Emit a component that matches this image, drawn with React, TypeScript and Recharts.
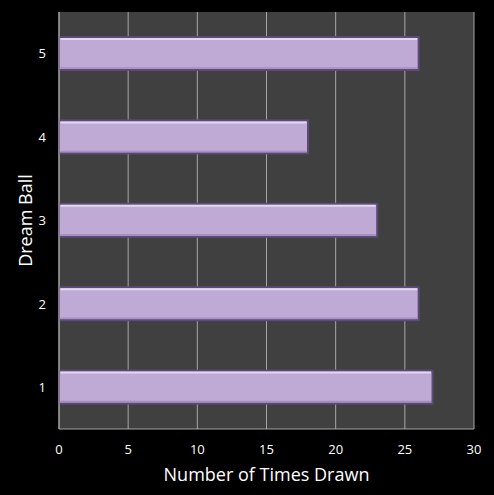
import React from "react";
import { BarChart, Bar, XAxis, YAxis, CartesianGrid, Label } from "recharts";

// Dream ball numbers and how many times each was drawn
const balls = ["1", "2", "3", "4", "5"];
const timesDrawn = [27, 26, 23, 18, 26];
const xTicks = [0, 5, 10, 15, 20, 25, 30];

const data = balls.map((ball, i) => ({ ball, count: timesDrawn[i] }));

const FONT = "'Open Sans', sans-serif";

// Bar with a dark outline and a pale sheen along its top edge
const BeveledBar = (props: any) => {
  const x0 = Number(props.x);
  const y0 = Number(props.y);
  const w0 = Number(props.width);
  const h0 = Number(props.height);
  const x = Math.min(x0, x0 + w0);
  const y = Math.min(y0, y0 + h0);
  const width = Math.abs(w0);
  const height = Math.abs(h0);
  if (!width) return null;
  return (
    <g>
      <rect x={x} y={y} width={width} height={height} fill="#bfaad5" stroke="#5d4a78" strokeWidth={2} />
      <line x1={x + 1.5} x2={x + width - 1.5} y1={y + 2} y2={y + 2} stroke="#e2d8ee" strokeWidth={2} />
      <line x1={x + 1.5} x2={x + width - 1.5} y1={y + height - 2} y2={y + height - 2} stroke="#a48fbd" strokeWidth={1.5} />
    </g>
  );
};

// Vertical axis title, centred on the plot height
const YTitle = (props: any) => {
  const vb = props.viewBox || {};
  const cx = 25;
  const cy = (vb.y ?? 12) + (vb.height ?? 417) / 2;
  return (
    <text
      x={cx}
      y={cy}
      transform={`rotate(-90 ${cx} ${cy})`}
      textAnchor="middle"
      dominantBaseline="central"
      fill="#ffffff"
      fontSize={18}
      fontFamily={FONT}
    >
      Dream Ball
    </text>
  );
};

export default function App() {
  return (
    <div style={{ position: "absolute", left: 0, top: 0, width: 494, height: 495, background: "#000" }}>
      <BarChart
        width={494}
        height={495}
        data={data}
        layout="vertical"
        margin={{ top: 12, right: 20, bottom: 0, left: 0 }}
      >
        <CartesianGrid horizontal={false} vertical stroke="#a6a6a6" fill="#404040" />
        <XAxis
          type="number"
          domain={[0, 30]}
          ticks={xTicks}
          height={66}
          axisLine={{ stroke: "#a6a6a6" }}
          tickLine={false}
          tick={{ fill: "#ffffff", fontSize: 13, fontFamily: FONT }}
          tickMargin={10}
          label={{
            value: "Number of Times Drawn",
            position: "insideBottom",
            offset: 14,
            fill: "#ffffff",
            fontSize: 18,
            fontFamily: FONT,
          }}
        />
        <YAxis
          type="category"
          dataKey="ball"
          reversed
          width={59}
          axisLine={{ stroke: "#a6a6a6" }}
          tickLine={false}
          tick={{ fill: "#ffffff", fontSize: 13, fontFamily: FONT }}
          tickMargin={7}
        >
          <Label content={YTitle} />
        </YAxis>
        <Bar dataKey="count" barSize={33} shape={BeveledBar} isAnimationActive={false} />
      </BarChart>
    </div>
  );
}
